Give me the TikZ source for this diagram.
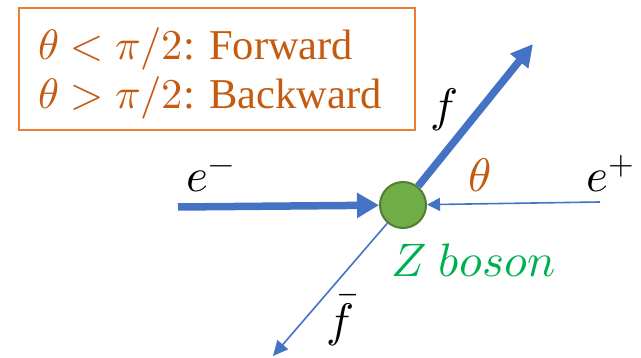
\documentclass[tikz,border=0pt]{standalone}
\usepackage{fontspec}
\usepackage{unicode-math}
\setmainfont{Liberation Serif}
\setmathfont{Latin Modern Math}
\usetikzlibrary{arrows.meta}
\definecolor{zblue}{HTML}{4472C4}
\definecolor{boxorange}{HTML}{ED7D31}
\definecolor{txtorange}{HTML}{C55A11}
\definecolor{zgreen}{HTML}{70AD47}
\definecolor{zgreendark}{HTML}{507E32}
\definecolor{labgreen}{HTML}{00B050}
\tikzset{
  thickarrow/.style={draw=zblue, line width=7.5pt, -{Triangle[length=22pt,width=24pt]}},
  thinarrow/.style={draw=zblue, line width=1.6pt, -{Triangle[length=13pt,width=13pt]}},
  boxtext/.style={text=txtorange, font=\fontsize{42.5}{46}\selectfont, inner sep=0pt, anchor=base west},
  lab/.style={font=\fontsize{47}{50}\selectfont, inner sep=0pt},
}
\begin{document}
\begin{tikzpicture}[x=1pt,y=-1pt]
\useasboundingbox (0,0) rectangle (641,358);
% legend box
\node[draw=boxorange, line width=2pt, minimum width=396pt, minimum height=122pt, inner sep=0pt] (box) at (217,69) {};
\node[boxtext] (line1) at (38,60) {$\theta<\pi/2$: Forward};
\node[boxtext] (line2) at (38,109) {$\theta>\pi/2$: Backward};
% vertex
\node[circle, draw=zgreendark, fill=zgreen, line width=2pt, minimum size=46pt, inner sep=0pt] (Z) at (403,205) {};
\coordinate (em) at (178,207);
\coordinate (ep) at (600,202);
\coordinate (ftip) at (533,44);
\coordinate (fbtip) at (273,356);
\draw[thickarrow] (em) -- (Z);
\draw[thinarrow] (ep) -- (Z);
\draw[thickarrow, -{Triangle[length=22pt,width=22pt]}] (Z) -- (ftip);
\draw[thinarrow, -{Triangle[length=15pt,width=14pt]}] (Z) -- (fbtip);
% labels
\node[lab, anchor=base west] (elab) at (186,192) {$e^-$};
\node[lab, anchor=base west] (eplab) at (586,192) {$e^+$};
\node[lab] (flab) at (444,110) {$f$};
\node[lab, text=txtorange, anchor=base] (thlab) at (480,192) {$\theta$};
\node[lab, text=labgreen, anchor=base west] (zlab) at (391,277) {$Z\ boson$};
\node[lab] (fblab) at (340,320) {$\bar{f}$};
\end{tikzpicture}
\end{document}
